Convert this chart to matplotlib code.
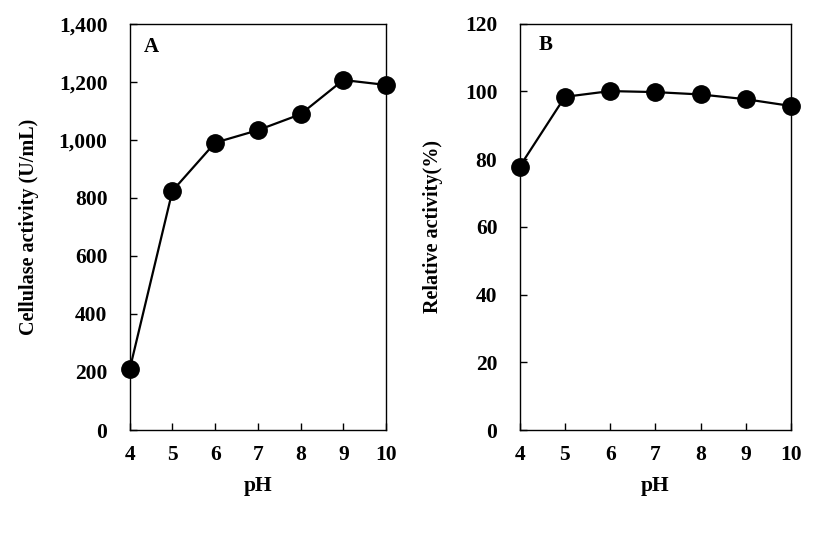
import numpy as np
import matplotlib
matplotlib.use('Agg')
import matplotlib.pyplot as plt
from matplotlib.ticker import FuncFormatter

# data
ph = [4, 5, 6, 7, 8, 9, 10]
cellulase_activity = [209, 824, 990, 1033, 1088, 1206, 1189]  # U/mL
relative_activity = [77.8, 98.4, 100.1, 99.8, 99.1, 97.7, 95.7]  # %

plt.rcParams['font.family'] = 'Liberation Serif'
plt.rcParams['font.weight'] = 'bold'
plt.rcParams['font.size'] = 15

fig = plt.figure(figsize=(8.27, 5.4), dpi=100)

# panel A
ax1 = fig.add_axes([129.7 / 827, 1 - 430 / 540, 256.3 / 827, 406.3 / 540])
ax1.plot(ph, cellulase_activity, color='black', lw=1.6, marker='o', ms=12.5,
         clip_on=False, zorder=3)
ax1.set_xlim(4, 10)
ax1.set_ylim(0, 1400)
ax1.set_yticks(np.arange(0, 1401, 200))
ax1.yaxis.set_major_formatter(FuncFormatter(lambda v, p: f'{int(v):,}'))
ax1.set_ylabel('Cellulase activity (U/mL)', fontweight='bold', fontsize=14.5, labelpad=14)
ax1.set_xlabel('pH', fontweight='bold', fontsize=15.5, labelpad=8)
ax1.text(0.085, 0.943, 'A', transform=ax1.transAxes, ha='center', va='center',
         fontweight='bold')

# panel B
ax2 = fig.add_axes([519.7 / 827, 1 - 430 / 540, 271.3 / 827, 406.3 / 540])
ax2.plot(ph, relative_activity, color='black', lw=1.6, marker='o', ms=12.5,
         clip_on=False, zorder=3)
ax2.set_xlim(4, 10)
ax2.set_ylim(0, 120)
ax2.set_yticks(np.arange(0, 121, 20))
ax2.set_ylabel('Relative activity(%)', fontweight='bold', fontsize=14.5, labelpad=16)
ax2.set_xlabel('pH', fontweight='bold', fontsize=15.5, labelpad=8)
ax2.text(0.096, 0.948, 'B', transform=ax2.transAxes, ha='center', va='center',
         fontweight='bold')

for ax in (ax1, ax2):
    ax.set_xticks(ph)
    ax.tick_params(direction='in', length=5, width=1, labelsize=15.5)
    ax.tick_params(axis='y', pad=16)
    ax.tick_params(axis='x', pad=11)
    for s in ax.spines.values():
        s.set_linewidth(1)

plt.savefig('out.png', dpi=100)
